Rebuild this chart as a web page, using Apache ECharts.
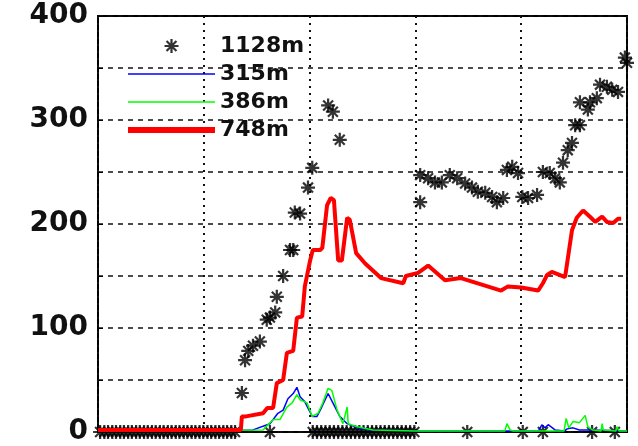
<!DOCTYPE html>
<html>
<head>
<meta charset="utf-8">
<script src="https://cdn.jsdelivr.net/npm/echarts@6/dist/echarts.min.js"></script>
<style>
	html, body { margin: 0; padding: 0; background: #fff; }
	#chart { width: 638px; height: 446px; }
</style>
</head>
<body>
<div id="chart"></div>
<script>
'use strict';

// 1128m 星号点 (x, y)
var deep1128 = [
	[0.4, 0], [1.2, 0], [1.9, 0], [2.7, 0], [3.4, 0], [4.2, 0], [4.9, 0], [5.7, 0], [6.4, 0],
	[7.2, 0], [7.9, 0], [8.7, 0], [9.4, 0], [10.2, 0], [10.9, 0], [11.7, 0], [12.4, 0], [13.2, 0],
	[13.9, 0], [14.7, 0], [15.4, 0], [16.2, 0], [16.9, 0], [17.7, 0], [18.4, 0], [19.2, 0],
	[19.9, 0], [20.7, 0], [21.4, 0], [22.2, 0], [22.9, 0], [23.7, 0], [24.4, 0], [25.2, 0], [25.9, 0],
	[27.2, 37.5], [27.8, 69], [28.4, 78], [29.3, 83], [30.6, 87], [31.9, 108], [32.5, 110], [32.5, 0],
	[33.5, 115], [33.8, 130], [35.0, 150], [36.3, 175], [36.9, 175], [37.2, 211], [38.2, 210],
	[39.7, 235], [40.5, 254], [43.5, 314], [44.4, 308], [45.7, 281],
	[40.6, 0], [41.4, 0], [42.2, 0], [43.0, 0], [43.8, 0], [44.6, 0], [45.4, 0], [46.2, 0], [47.0, 0],
	[47.8, 0], [48.6, 0], [49.4, 0], [50.2, 0], [51.0, 0], [51.8, 0], [52.6, 0], [53.4, 0], [54.2, 0],
	[55.0, 0], [55.8, 0], [56.6, 0], [57.4, 0], [58.2, 0], [59.0, 0], [59.8, 0],
	[60.9, 221], [60.9, 247], [62.4, 244], [63.7, 240], [65.0, 240], [66.5, 247], [67.9, 244],
	[69.4, 239], [69.8, 0], [70.7, 235], [71.8, 231], [73.2, 230], [74.5, 226], [75.4, 221], [76.6, 225],
	[77.3, 252], [78.3, 255], [79.4, 249], [80.2, 226], [80.3, 0], [81.3, 225], [83.0, 228], [84.1, 250],
	[84.1, 0], [85.4, 249], [86.4, 244], [87.3, 240], [87.9, 259], [88.8, 271], [89.6, 278], [90.2, 295],
	[91.1, 295], [91.1, 317], [92.6, 310], [93.0, 317], [93.4, 0], [94.3, 321], [94.9, 334], [96.2, 332],
	[97.2, 329], [97.7, 0], [98.3, 327], [99.6, 360], [100, 355]
];

// 315m 蓝线
var line315 = [
	[0, 1], [29.3, 2], [32.5, 8], [34.0, 18], [35.0, 21], [35.9, 32], [36.9, 37], [37.6, 43],
	[38.2, 34], [39.1, 29], [40.5, 15], [41.4, 15], [42.3, 24], [43.5, 37], [44.4, 28], [45.7, 15],
	[47.1, 8], [49.0, 4], [51.4, 2], [60, 1], [83.3, 1], [83.9, 7], [84.5, 4], [85.1, 7], [86.4, 2],
	[88.2, 1], [88.7, 3], [89.8, 4], [91.0, 2], [93.4, 2], [100, 1]
];

// 386m 绿线
var line386 = [
	[0, 1], [31.2, 2], [33.1, 12], [34.4, 12], [35.7, 24], [36.7, 28], [37.6, 36], [38.2, 31],
	[39.5, 28], [40.5, 15], [41.6, 18], [42.5, 28], [43.5, 42], [44.2, 40], [45.2, 21], [46.3, 8],
	[47.1, 24], [47.3, 8], [49.0, 5], [52.0, 2], [60, 1], [76.9, 1], [77.3, 8], [77.9, 2], [78.5, 1],
	[88.1, 1], [88.5, 13], [89.0, 4], [89.8, 10], [91.0, 9], [92.1, 16], [92.6, 5], [93.5, 2],
	[95.1, 1], [95.3, 8], [95.5, 2], [97.9, 1], [98.1, 5], [98.5, 1], [100, 1]
];

// 748m 红线
var line748 = [
	[0, 2], [27.0, 2], [27.2, 15], [28.0, 15], [31.2, 18], [32.0, 23], [33.1, 23], [33.8, 47],
	[35.0, 50], [35.7, 76], [36.9, 78], [37.6, 110], [38.6, 111], [39.1, 140], [40.1, 165],
	[40.6, 175], [42.0, 175], [42.4, 177], [43.3, 218], [44.0, 225], [44.6, 223], [45.4, 165],
	[46.1, 165], [47.1, 206], [47.6, 204], [48.8, 172], [50.5, 162], [53.5, 148], [57.7, 143],
	[58.2, 150], [60.5, 153], [62.4, 160], [65.6, 146], [68.6, 148], [76.2, 136], [77.5, 140],
	[80.0, 139], [83.2, 136], [84.1, 143], [84.9, 151], [85.8, 154], [88.3, 149], [89.6, 194],
	[90.5, 206], [91.7, 213], [93.0, 207], [94.0, 202], [95.3, 207], [96.2, 202], [97.4, 201],
	[98.3, 205], [98.9, 205]
];

var seriesNames = ['1128m', '315m', '386m', '748m'];
var yTicks = [0, 100, 200, 300, 400];

// 星号 (*)
var starPath = 'path://M0 42L100 42L100 58L0 58Z M42 0L58 0L58 100L42 100Z ' +
	'M20 9L91 80L80 91L9 20Z M80 9L91 20L20 91L9 80Z';
// 图例线段
var thinLine = 'path://M0 0L87 0L87 1.6L0 1.6Z';
var thickLine = 'path://M0 0L87 0L87 6L0 6Z';

var myChart = echarts.init(document.getElementById('chart'));

myChart.setOption({
	backgroundColor: '#fff',
	animation: false,
	grid: {
		left: 98,
		right: 11,
		top: 16,
		bottom: 14,
		show: true,
		borderColor: '#000',
		borderWidth: 2
	},
	legend: {
		data: [
			{ name: seriesNames[0] },
			{ name: seriesNames[1], icon: thinLine },
			{ name: seriesNames[2], icon: thinLine },
			{ name: seriesNames[3], icon: thickLine }
		],
		orient: 'vertical',
		left: 123,
		top: 28,
		itemWidth: 87,
		itemHeight: 14,
		itemGap: 2,
		textStyle: {
			fontFamily: 'DejaVu Sans',
			fontWeight: 'bold',
			fontSize: 22,
			lineHeight: 26,
			color: '#111'
		}
	},
	xAxis: {
		type: 'value',
		min: 0,
		max: 100,
		interval: 20,
		axisLine: { show: false },
		axisTick: { show: false },
		axisLabel: { show: false },
		splitLine: {
			show: true,
			lineStyle: { color: '#111', width: 2, type: [2, 5] }
		}
	},
	yAxis: {
		type: 'value',
		min: 0,
		max: 400,
		interval: 50,
		axisLine: { show: false },
		axisTick: { show: true, inside: true, length: 5, lineStyle: { color: '#000' } },
		axisLabel: {
			margin: 10,
			fontFamily: 'DejaVu Sans',
			fontWeight: 'bold',
			fontSize: 28,
			color: '#111',
			formatter: function (v) {
				return yTicks.indexOf(v) >= 0 ? String(v) : '';
			}
		},
		splitLine: {
			show: true,
			lineStyle: { color: '#111', width: 1.5, type: [5, 5] }
		}
	},
	series: [{
		name: '1128m',
		type: 'scatter',
		symbol: starPath,
		symbolSize: 14,
		symbolKeepAspect: true,
		clip: false,
		itemStyle: { color: '#000' },
		data: deep1128,
		z: 2
	}, {
		name: '315m',
		type: 'line',
		symbol: 'none',
		lineStyle: { color: '#0000ff', width: 1.5 },
		itemStyle: { color: '#0000ff' },
		data: line315,
		z: 3
	}, {
		name: '386m',
		type: 'line',
		symbol: 'none',
		lineStyle: { color: '#00ff00', width: 1.5 },
		itemStyle: { color: '#00ff00' },
		data: line386,
		z: 4
	}, {
		name: '748m',
		type: 'line',
		symbol: 'none',
		lineStyle: { color: '#ff0000', width: 4 },
		itemStyle: { color: '#ff0000' },
		data: line748,
		z: 5
	}]
});
</script>
</body>
</html>
